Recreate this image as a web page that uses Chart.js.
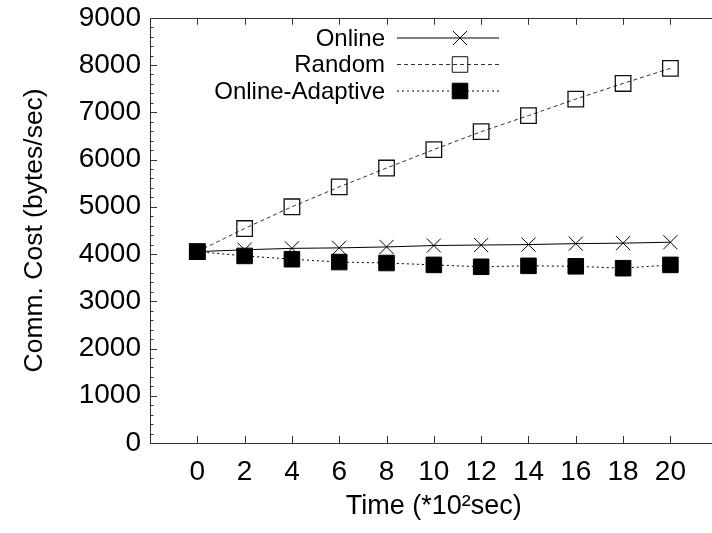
<!DOCTYPE html>
<html><head><meta charset="utf-8">
<script src="https://cdn.jsdelivr.net/npm/chart.js@4/dist/chart.umd.min.js"></script>
<style>
html,body{margin:0;padding:0;overflow:hidden;background:#fff;width:712px;height:533px}
#wrap{position:absolute;left:0;top:0;width:730px;height:533px}
</style>
</head><body><div id="wrap"><canvas id="c" width="730" height="533"></canvas></div>
<script>
const timeLabels = [0, 2, 4, 6, 8, 10, 12, 14, 16, 18, 20];
const onlineCost = [4050, 4090, 4120, 4130, 4150, 4180, 4190, 4200, 4220, 4230, 4250];
const randomCost = [4050, 4540, 5000, 5420, 5820, 6210, 6590, 6930, 7280, 7610, 7930];
const adaptiveCost = [4050, 3960, 3890, 3830, 3810, 3770, 3730, 3750, 3740, 3700, 3770];
const seriesNames = ['Online', 'Random', 'Online-Adaptive'];
const yTickValues = [0, 1000, 2000, 3000, 4000, 5000, 6000, 7000, 8000, 9000];

const FONT = '"Liberation Sans", Arial, sans-serif';
const pts = arr => arr.map((v, i) => ({x: timeLabels[i], y: v}));

const frameTicks = {
  id: 'frameTicks',
  afterDraw(chart) {
    const ctx = chart.ctx, a = chart.chartArea;
    const xs = chart.scales.x, ys = chart.scales.y;
    ctx.save();
    ctx.strokeStyle = '#333';
    ctx.lineWidth = 1;
    ctx.beginPath();
    ctx.rect(Math.round(a.left) + 0.5, Math.round(a.top) + 0.5, a.right - a.left, Math.round(a.bottom - a.top));
    ctx.stroke();
    ctx.beginPath();
    for (let v = 0; v <= 9000; v += 200) {
      const y = Math.round(ys.getPixelForValue(v)) + 0.5;
      const len = (v % 1000 === 0) ? 7 : 3.5;
      ctx.moveTo(a.left, y); ctx.lineTo(a.left + len, y);
    }
    timeLabels.forEach(t => {
      const x = Math.round(xs.getPixelForValue(t)) + 0.5;
      ctx.moveTo(x, a.bottom); ctx.lineTo(x, a.bottom - 7);
      ctx.moveTo(x, a.top); ctx.lineTo(x, a.top + 7);
    });
    ctx.stroke();
    ctx.restore();
  }
};

const legendPlugin = {
  id: 'customLegend',
  afterDraw(chart) {
    const ctx = chart.ctx;
    const rows = [38, 64.5, 91];
    ctx.save();
    chart.data.datasets.forEach((ds, i) => {
      const y = rows[i];
      ctx.font = '24px ' + FONT;
      ctx.fillStyle = '#000';
      ctx.textAlign = 'right';
      ctx.textBaseline = 'middle';
      ctx.fillText(ds.label, 385, y + 1);
      ctx.strokeStyle = ds.borderColor;
      ctx.lineWidth = 1;
      ctx.setLineDash(ds.borderDash || []);
      ctx.beginPath();
      ctx.moveTo(397, y); ctx.lineTo(499, y);
      ctx.stroke();
      ctx.setLineDash([]);
      ctx.strokeStyle = ds.pointBorderColor;
      ctx.fillStyle = ds.pointBackgroundColor;
      Chart.helpers.drawPoint(ctx, {pointStyle: ds.pointStyle, radius: ds.pointRadius, rotation: 0, borderWidth: 1}, 460, y);
    });
    ctx.restore();
  }
};

new Chart(document.getElementById('c'), {
  type: 'line',
  data: {
    datasets: [
      {label: seriesNames[0], data: pts(onlineCost), borderColor: '#000', borderWidth: 1,
       pointStyle: 'crossRot', pointRadius: 10, pointBorderColor: '#000', pointBackgroundColor: '#000', pointBorderWidth: 1, order: 1},
      {label: seriesNames[1], data: pts(randomCost), borderColor: '#333', borderWidth: 1, borderDash: [4, 3],
       pointStyle: 'rect', pointRadius: 11, pointBorderColor: '#111', pointBackgroundColor: 'rgba(0,0,0,0)', pointBorderWidth: 1.3, order: 2},
      {label: seriesNames[2], data: pts(adaptiveCost), borderColor: '#000', borderWidth: 1, borderDash: [2, 3],
       pointStyle: 'rect', pointRadius: 11, pointBorderColor: '#000', pointBackgroundColor: '#000', pointBorderWidth: 1, order: 0}
    ]
  },
  options: {
    responsive: false,
    animation: false,
    devicePixelRatio: 1,
    layout: {padding: {top: 17, right: 10, left: 0, bottom: 0}},
    plugins: {legend: {display: false}, tooltip: {enabled: false}},
    elements: {line: {tension: 0}},
    scales: {
      x: {
        type: 'linear', min: -2, max: 22,
        grid: {display: false}, border: {display: false},
        ticks: {stepSize: 2, padding: 4, color: '#000', font: {family: FONT, size: 28},
          maxRotation: 0, autoSkip: false,
          callback: v => timeLabels.includes(v) ? String(v) : null},
        title: {display: true, text: 'Time (*10²sec)', color: '#000', font: {family: FONT, size: 27}, padding: {top: 0, bottom: 10}},
        afterFit: s => { s.height = 90; }
      },
      y: {
        min: 0, max: 9000,
        grid: {display: false}, border: {display: false},
        afterBuildTicks: s => { s.ticks = yTickValues.map(v => ({value: v})); },
        ticks: {padding: 1, color: '#000', font: {family: FONT, size: 28}, callback: v => String(v)},
        title: {display: true, text: 'Comm. Cost (bytes/sec)', color: '#000', font: {family: FONT, size: 26.5}, padding: {top: 19, bottom: 0}},
        afterFit: s => { s.width = 150; }
      }
    }
  },
  plugins: [frameTicks, legendPlugin]
});
</script></body></html>
